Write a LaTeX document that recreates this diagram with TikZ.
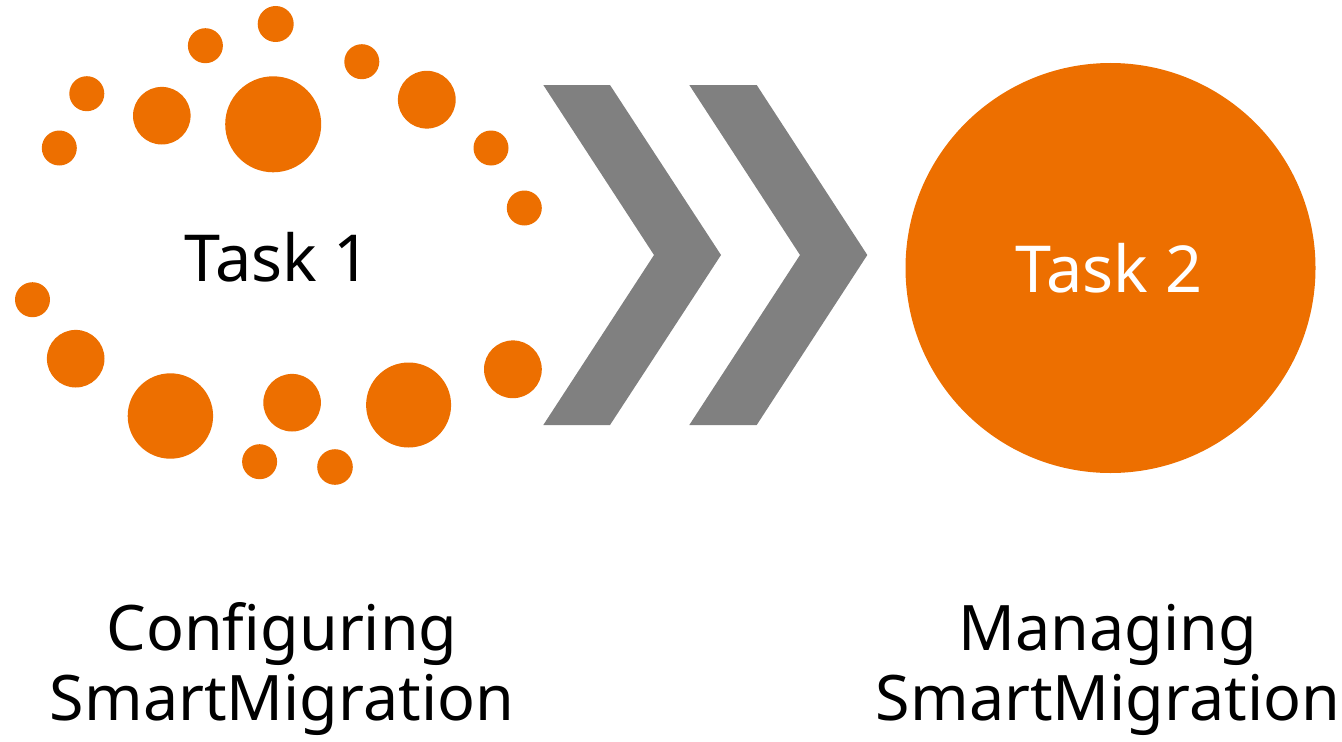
\documentclass[tikz,border=0pt]{standalone}
\usepackage{fontspec}
\setmainfont{Noto Sans}
\definecolor{dotorange}{RGB}{237,111,0}
\definecolor{chevgray}{RGB}{128,128,128}
\begin{document}
\begin{tikzpicture}[x=1bp,y=-1bp,
  dot/.style={fill=dotorange},
  chev/.style={fill=chevgray},
  tasktext/.style={font=\fontsize{65}{70}\selectfont, anchor=base, inner sep=0pt},
  labeltext/.style={font=\fontsize{63}{70}\selectfont, align=center, anchor=base, inner sep=0pt}]
\useasboundingbox (0,0) rectangle (1342,741);
% dots around Task 1
\foreach \x/\y/\r in {
  275.7/24/18, 205.4/45.7/17.5, 361.8/61.7/17.5, 86.8/93.7/17.5,
  161.8/115.7/28.8, 273.2/124.3/48, 426.8/99.7/28.9, 59.3/148/17.5,
  491/148/17.5, 524.3/208/17.5, 32.5/299.7/17.5, 75.7/358.7/28.8,
  512.9/369.3/28.9, 170.4/416/42.7, 292.1/402.7/28.8, 408.6/405/42.5,
  259.6/461.7/17.5, 335/467/17.8}
  \fill[dot] (\x,\y) circle[radius=\r];
\node[tasktext] (t1) at (277.5,281) {Task 1};
% chevrons
\fill[chev] (543.3,85) -- (610,85) -- (721,255) -- (610,425) -- (543.3,425) -- (654,255) -- cycle;
\fill[chev] (689.3,85) -- (756.7,85) -- (867.3,255) -- (756.7,425) -- (689.3,425) -- (800,255) -- cycle;
% Task 2 circle
\node[circle, fill=dotorange, minimum size=410bp, inner sep=0pt] (c2) at (1110.5,268) {};
\node[tasktext, text=white] (t2) at (1109,292) {Task 2};
% labels
\node[labeltext] (l1) at (282,720) {Configuring\\SmartMigration};
\node[labeltext] (l2) at (1108,720) {Managing\\SmartMigration};
\end{tikzpicture}
\end{document}
